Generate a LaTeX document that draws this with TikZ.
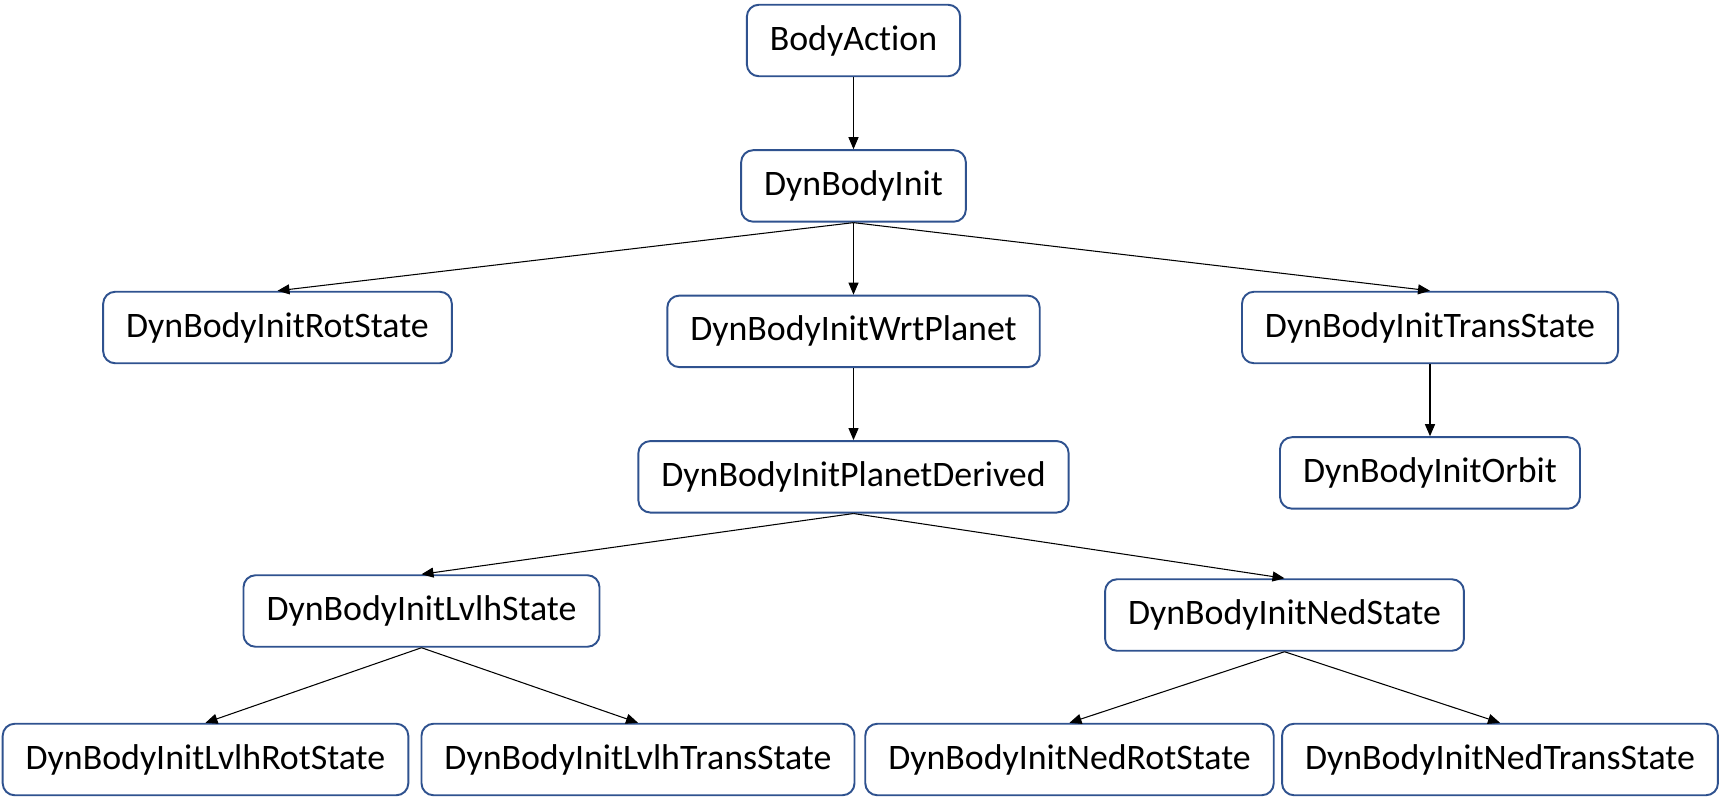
\documentclass[tikz,border=0pt]{standalone}
\usepackage{fontspec}
\setmainfont[Ligatures=NoCommon]{Carlito}
\usetikzlibrary{positioning,arrows.meta}
\definecolor{BoxBlue}{RGB}{47,82,143}
\tikzset{
  cls/.style={draw=BoxBlue,line width=1.1pt,fill=white,rounded corners=0.24cm,minimum height=1.43cm,inner xsep=0.46cm,align=center,font=\fontsize{20.4}{24}\selectfont},
  arrow/.style={-{Triangle[length=2.4mm,width=2mm]},line width=0.6pt,draw=black},
}

\begin{document}
\begin{tikzpicture}[node distance=1.44cm and 1cm]
      \useasboundingbox (0,0) rectangle (34.46,-15.96);
      \node[cls] (body) at (17.07,-0.81) {BodyAction};
      \node[cls,below=of body] (dbi) {DynBodyInit};
      \node[cls,below=of dbi] (wrt) {DynBodyInitWrtPlanet};
      \node[cls] (rot) at (5.55,-6.55) {DynBodyInitRotState};
      \node[cls] (trans) at (28.6,-6.55) {DynBodyInitTransState};
      \node[cls,below=of wrt] (planet) {DynBodyInitPlanetDerived};
      \node[cls,below=of trans] (orbit) {DynBodyInitOrbit};
      \node[cls] (lvlh) at (8.43,-12.22) {DynBodyInitLvlhState};
      \node[cls] (ned) at (25.69,-12.30) {DynBodyInitNedState};
      \node[cls] (lvlhrot) at (4.11,-15.19) {DynBodyInitLvlhRotState};
      \node[cls] (lvlhtrans) at (12.76,-15.19) {DynBodyInitLvlhTransState};
      \node[cls] (nedrot) at (21.39,-15.19) {DynBodyInitNedRotState};
      \node[cls] (nedtrans) at (30.0,-15.19) {DynBodyInitNedTransState};
      \draw[arrow] (body)--(dbi); \draw[arrow] (dbi)--(wrt); \draw[arrow] (wrt)--(planet);
      \draw[arrow] (dbi.south)--(rot.north); \draw[arrow] (dbi.south)--(trans.north);
      \draw[arrow] (trans)--(orbit);
      \draw[arrow] (planet.south)--(lvlh.north); \draw[arrow] (planet.south)--(ned.north);
      \draw[arrow] (lvlh.south)--(lvlhrot.north); \draw[arrow] (lvlh.south)--(lvlhtrans.north);
      \draw[arrow] (ned.south)--(nedrot.north); \draw[arrow] (ned.south)--(nedtrans.north);
    \end{tikzpicture}
\end{document}
